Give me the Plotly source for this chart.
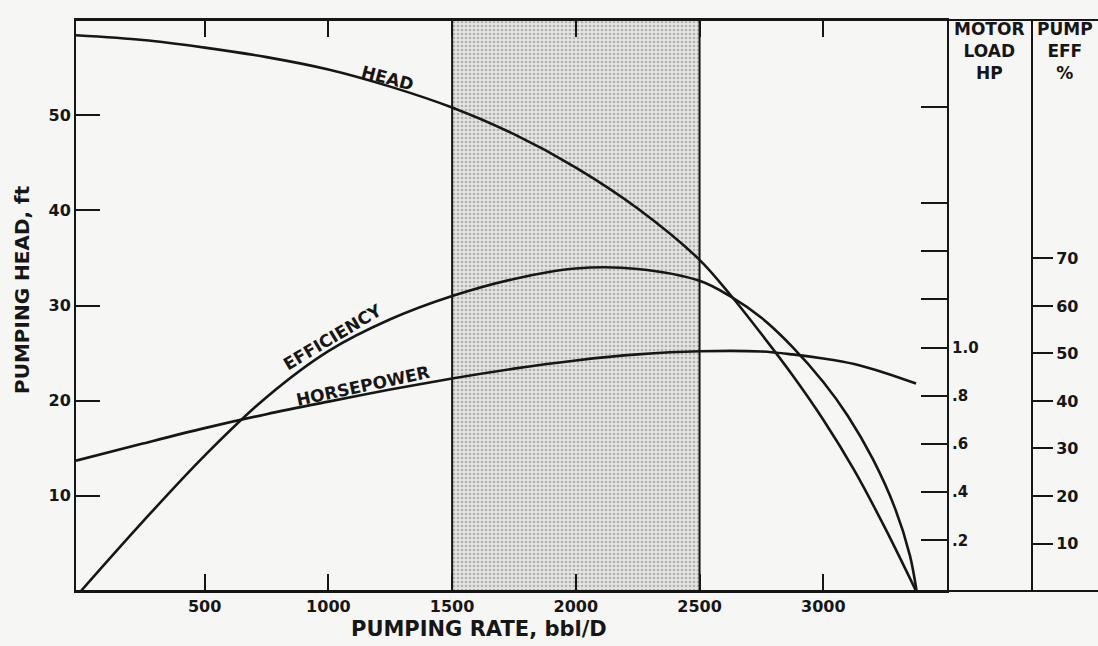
import plotly.graph_objects as go

# ---------------- data ----------------
rate_head = [-20, 250, 500, 750, 1000, 1250, 1500, 1750, 2000, 2250, 2500,
             2625, 2750, 2875, 3000, 3125, 3250, 3375]
head_ft = [58.4, 57.9, 57.1, 56.1, 54.8, 53.0, 50.8, 48.0, 44.5, 40.2, 34.8,
           31.1, 27.0, 22.7, 18.0, 12.7, 6.6, 0.0]

rate_eff = [0, 250, 500, 750, 1000, 1250, 1500, 1750, 2000, 2250, 2500,
            2625, 2750, 2875, 3000, 3100, 3200, 3290, 3350, 3377]
eff_pct = [0, 14.6, 28.5, 40.8, 50.5, 57.2, 62.1, 65.7, 67.9, 67.8, 65.3,
           62.0, 57.5, 51.4, 44.0, 36.8, 27.8, 17.4, 7.5, 0.0]

rate_hp = [-20, 250, 500, 750, 1000, 1250, 1500, 1750, 2000, 2250, 2500,
           2750, 2875, 3000, 3125, 3250, 3375]
motor_hp = [0.531, 0.602, 0.666, 0.724, 0.776, 0.826, 0.872, 0.913, 0.947, 0.972, 0.985,
            0.984, 0.972, 0.955, 0.932, 0.895, 0.851]

optimum_range = [1500, 2500]

x_ticks = [500, 1000, 1500, 2000, 2500, 3000]
head_ticks = [10, 20, 30, 40, 50]
hp_ticks = [0.2, 0.4, 0.6, 0.8, 1.0, 1.2, 1.4, 1.6, 2.0]
hp_tick_text = [".2", ".4", ".6", ".8", "1.0", "", "", "", ""]
eff_ticks = [10, 20, 30, 40, 50, 60, 70]

# ---------------- styling ----------------
INK = "#161616"
BG = "#f6f6f4"
FONT = "DejaVu Sans"
W, H = 1098, 646
L, R, T, B = 76, 0, 20, 55
plot_w = W - L - R
plot_h = H - T - B
main_right_px = 947
eff_axis_px = 1032
x_dom_end = (main_right_px - L) / plot_w
eff_pos = (eff_axis_px - L) / plot_w

fig = go.Figure()

# shaded optimum operating band (stippled)
fig.add_trace(go.Bar(
    x=[(optimum_range[0] + optimum_range[1]) / 2], y=[60], base=0,
    width=[optimum_range[1] - optimum_range[0]],
    marker=dict(
        color="#e2e2e2",
        pattern=dict(shape=".", fgcolor="#7f7f7f", bgcolor="#e4e4e2", size=4, solidity=0.35),
        line=dict(color=INK, width=2),
    ),
    hoverinfo="skip", showlegend=False,
))

line_style = dict(color=INK, width=2.6, shape="spline", smoothing=0.9)
eff_style = dict(color=INK, width=2.6, shape="spline", smoothing=1.0)

fig.add_trace(go.Scatter(x=rate_head, y=head_ft, mode="lines", line=line_style,
                         name="Head", yaxis="y", showlegend=False))
fig.add_trace(go.Scatter(x=rate_eff, y=eff_pct, mode="lines", line=eff_style,
                         name="Efficiency", yaxis="y3", showlegend=False))
fig.add_trace(go.Scatter(x=rate_hp, y=motor_hp, mode="lines", line=line_style,
                         name="Horsepower", yaxis="y2", showlegend=False))

tick_font = dict(family=FONT, size=16, color=INK, weight="bold")

fig.update_layout(
    width=W, height=H,
    margin=dict(l=L, r=R, t=T, b=B),
    paper_bgcolor=BG, plot_bgcolor=BG,
    barmode="overlay",
    xaxis=dict(
        domain=[0, x_dom_end], range=[-20, 3500],
        tickvals=x_ticks, ticktext=[str(v) for v in x_ticks],
        ticks="inside", ticklen=17, tickwidth=2, tickcolor=INK,
        showline=True, linecolor=INK, linewidth=2, mirror="ticks",
        showgrid=False, zeroline=False, tickfont=tick_font,
    ),
    yaxis=dict(
        range=[0, 60], tickvals=head_ticks,
        ticks="inside", ticklen=24, tickwidth=2, tickcolor=INK,
        showline=True, linecolor=INK, linewidth=2,
        showgrid=False, zeroline=False, tickfont=tick_font,
    ),
    yaxis2=dict(
        overlaying="y", side="right", anchor="x",
        range=[-0.01, 2.36], tickvals=hp_ticks, ticktext=hp_tick_text,
        ticks="inside", ticklen=26, tickwidth=2, tickcolor=INK,
        showline=True, linecolor=INK, linewidth=2,
        showgrid=False, zeroline=False, tickfont=dict(family=FONT, size=15, color=INK, weight="bold"),
    ),
    yaxis3=dict(
        overlaying="y", side="right", anchor="free", position=eff_pos,
        range=[0, 120.2], tickvals=eff_ticks,
        ticks="outside", ticklen=20, tickwidth=2, tickcolor=INK,
        showline=True, linecolor=INK, linewidth=2,
        showgrid=False, zeroline=False, tickfont=tick_font,
    ),
    showlegend=False,
)

# full-width top and bottom frame lines
fig.add_shape(type="line", xref="paper", yref="paper", x0=0, x1=1, y0=1, y1=1,
              line=dict(color=INK, width=2))
fig.add_shape(type="line", xref="paper", yref="paper", x0=0, x1=1, y0=0, y1=0,
              line=dict(color=INK, width=2))

label_font = dict(family=FONT, size=17, color=INK, weight="bold")

# curve labels
fig.add_annotation(x=1239, y=53.9, xref="x", yref="y", text="HEAD", showarrow=False,
                   textangle=15, font=label_font)
fig.add_annotation(x=1017, y=26.7, xref="x", yref="y", text="EFFICIENCY", showarrow=False,
                   textangle=-31, font=label_font)
fig.add_annotation(x=1138, y=21.5, xref="x", yref="y", text="HORSEPOWER", showarrow=False,
                   textangle=-12, font=label_font)

# side panel headers
header_font = dict(family=FONT, size=17, color=INK, weight="bold")
fig.add_annotation(x=(989 - L) / plot_w, y=1, xref="paper", yref="paper",
                   xanchor="center", yanchor="top", yshift=3,
                   text="MOTOR<br>LOAD<br>HP", showarrow=False, align="center",
                   font=header_font)
fig.add_annotation(x=(1065 - L) / plot_w, y=1, xref="paper", yref="paper",
                   xanchor="center", yanchor="top", yshift=3,
                   text="PUMP<br>EFF<br>%", showarrow=False, align="center",
                   font=header_font)

# axis titles
fig.add_annotation(x=(479 - L) / plot_w, y=-(629 - (H - B)) / plot_h, xref="paper", yref="paper",
                   text="PUMPING RATE, bbl/D", showarrow=False,
                   xanchor="center", yanchor="middle",
                   font=dict(family=FONT, size=21, color=INK, weight="bold"))
fig.add_annotation(x=(22 - L) / plot_w, y=((H - B) - 290) / plot_h, xref="paper", yref="paper",
                   text="PUMPING HEAD, ft", showarrow=False, textangle=-90,
                   xanchor="center", yanchor="middle",
                   font=dict(family=FONT, size=20, color=INK, weight="bold"))

fig.write_html(
    "out.html",
    config={"displayModeBar": False},
    post_script="document.body.style.margin='0';document.body.style.overflow='hidden';",
)
